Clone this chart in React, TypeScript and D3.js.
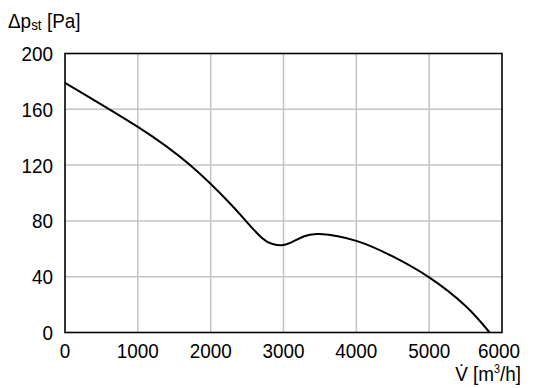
import * as d3 from "d3";
import { useEffect, useRef } from "react";

// volume flow [m³/h] and static pressure [Pa]
const flow = [0, 1000, 1717, 2266, 2482, 2700, 2850, 2975, 3100, 3275, 3500, 4000, 4500, 5000, 5500, 5830];
const pressure = [179, 147.4, 120, 92.5, 80, 68, 63.4, 62.5, 64.4, 68.8, 70.6, 65.7, 54.5, 39.5, 19, 0];
const xTicks = [0, 1000, 2000, 3000, 4000, 5000, 6000];
const yTicks = [0, 40, 80, 120, 160, 200];

const FONT = "'Liberation Sans', Arial, sans-serif";
const SX = 0.9; // narrow the glyphs a bit, like the condensed face in the original

const FanCurve = () => {
  const svgRef = useRef<SVGSVGElement>(null);
  useEffect(() => {
    if (!svgRef.current) return;
    const svg = d3.select(svgRef.current);
    svg.selectAll("*").remove();

    const width = 536;
    const height = 388;
    const marginLeft = 65;
    const marginRight = 34;
    const marginTop = 53.5;
    const marginBottom = 55.5;

    const x = d3.scaleLinear().domain([0, 6000]).range([marginLeft, width - marginRight]);
    const y = d3.scaleLinear().domain([0, 200]).range([height - marginBottom, marginTop]);

    svg.attr("width", width).attr("height", height).attr("viewBox", [0, 0, width, height]);

    // grid
    const grid = svg.append("g").attr("stroke", "#c4c4c4").attr("stroke-width", 1.5);
    grid
      .selectAll()
      .data(xTicks.slice(1, -1))
      .join("line")
      .attr("x1", (d) => x(d))
      .attr("x2", (d) => x(d))
      .attr("y1", y(0))
      .attr("y2", y(200));
    grid
      .selectAll()
      .data(yTicks.slice(1, -1))
      .join("line")
      .attr("x1", x(0))
      .attr("x2", x(6000))
      .attr("y1", (d) => y(d))
      .attr("y2", (d) => y(d));

    // frame
    svg
      .append("rect")
      .attr("x", x(0))
      .attr("y", y(200))
      .attr("width", x(6000) - x(0))
      .attr("height", y(0) - y(200))
      .attr("fill", "none")
      .attr("stroke", "#000")
      .attr("stroke-width", 1.6);

    // curve
    const points = flow.map((f, i) => [f, pressure[i]] as [number, number]);
    const line = d3
      .line<[number, number]>()
      .x((d) => x(d[0]))
      .y((d) => y(d[1]))
      .curve(d3.curveNatural);
    svg
      .append("path")
      .datum(points)
      .attr("d", line)
      .attr("fill", "none")
      .attr("stroke", "#000")
      .attr("stroke-width", 2);

    // tick labels
    const labels = svg.append("g").attr("font-family", FONT).attr("font-size", 21).attr("fill", "#000");
    labels
      .selectAll()
      .data(yTicks)
      .join("text")
      .attr("transform", (d) => `translate(${marginLeft - 12},${y(d) + 7.5}) scale(${SX},1)`)
      .attr("text-anchor", "end")
      .text((d) => d);
    labels
      .selectAll()
      .data(xTicks)
      .join("text")
      .attr("transform", (d) => `translate(${x(d) - (d === 6000 ? 3 : 0)},357.5) scale(${SX},1)`)
      .attr("text-anchor", "middle")
      .text((d) => d);

    // axis titles
    const yTitle = svg
      .append("text")
      .attr("font-family", FONT)
      .attr("font-size", 21)
      .attr("transform", `translate(8,28) scale(${SX},1)`);
    yTitle.append("tspan").text("Δp");
    yTitle.append("tspan").attr("font-size", 15).attr("dy", 2).text("st");
    yTitle.append("tspan").attr("dy", -2).text(" [Pa]");

    const xTitle = svg
      .append("text")
      .attr("font-family", FONT)
      .attr("font-size", 21)
      .attr("text-anchor", "end")
      .attr("transform", `translate(521,381) scale(${SX},1)`);
    xTitle.append("tspan").text("V̇ [m");
    xTitle.append("tspan").attr("font-size", 12).attr("dy", -8).text("3");
    xTitle.append("tspan").attr("dy", 8).text("/h]");
  }, []);
  return <svg ref={svgRef} style={{ position: "absolute", left: 0, top: 0, background: "#fff" }}></svg>;
};

export default function App() {
  return <FanCurve />;
}
